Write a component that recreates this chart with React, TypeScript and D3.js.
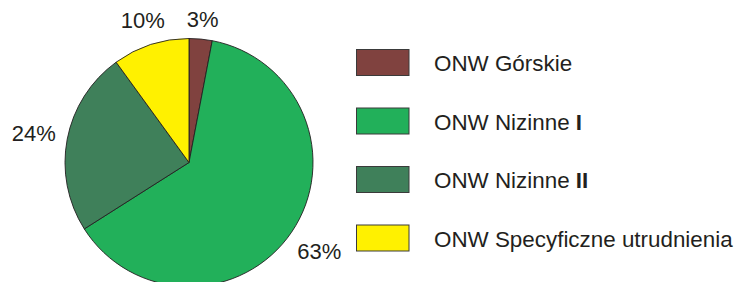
import React from "react";
import * as d3 from "d3";

const categories = ["ONW Górskie", "ONW Nizinne I", "ONW Nizinne II", "ONW Specyficzne utrudnienia"];
const values = [3, 63, 24, 10];
const labels = ["3%", "63%", "24%", "10%"];
const colors = ["#80423f", "#22b05a", "#3f805a", "#fff100"];

const W = 736;
const H = 282;
const cx = 189;
const cy = 162.5;
const R = 124;
const labelFs = 22;
const legendFs = 22.4;
const textColor = "#231f20";

function renderLabel(c: string) {
  const m = c.match(/^(.*\s)(I+)$/);
  if (!m) return c;
  return (
    <>
      {m[1]}
      <tspan fontWeight="bold">{m[2]}</tspan>
    </>
  );
}

export default function App() {
  const pie = d3.pie<number>().sort(null).value((d) => d)(values);
  const arc = d3.arc<d3.PieArcDatum<number>>().innerRadius(0).outerRadius(R);

  const legendY = d3.scaleLinear().domain([0, 3]).range([49, 224.5]);

  const labelPos = pie.map((p, i) => {
    const a = (p.startAngle + p.endAngle) / 2;
    const ux = Math.sin(a);
    const uy = -Math.cos(a);
    const txt = labels[i];
    const w = labelFs * (0.556 * (txt.length - 1) + 0.889);
    const h = labelFs * 0.72;
    const edge = Math.abs(ux) * w / 2 + Math.abs(uy) * h / 2;
    const d = R + 11 + edge;
    return { x: cx + ux * d, y: cy + uy * d + h / 2 };
  });

  return (
    <svg
      width={W}
      height={H}
      style={{ position: "absolute", left: 0, top: 0, background: "#fff" }}
      fontFamily="'Liberation Sans', Arial, sans-serif"
    >
      <g transform={`translate(${cx},${cy})`}>
        {pie.map((p, i) => (
          <path key={i} d={arc(p) || ""} fill={colors[i]} stroke="#231f20" strokeWidth={0.9} />
        ))}
      </g>
      {pie.map((p, i) => (
        <text
          key={i}
          x={labelPos[i].x}
          y={labelPos[i].y}
          textAnchor="middle"
          fontSize={labelFs}
          fill={textColor}
        >
          {labels[i]}
        </text>
      ))}
      {categories.map((c, i) => (
        <g key={c} transform={`translate(0,${legendY(i)})`}>
          <rect x={356.5} y={0.5} width={52.5} height={26} fill={colors[i]} stroke="#3a3a3a" strokeWidth={1} />
          <text x={434} y={22} fontSize={legendFs} fill={textColor}>
            {renderLabel(c)}
          </text>
        </g>
      ))}
    </svg>
  );
}
